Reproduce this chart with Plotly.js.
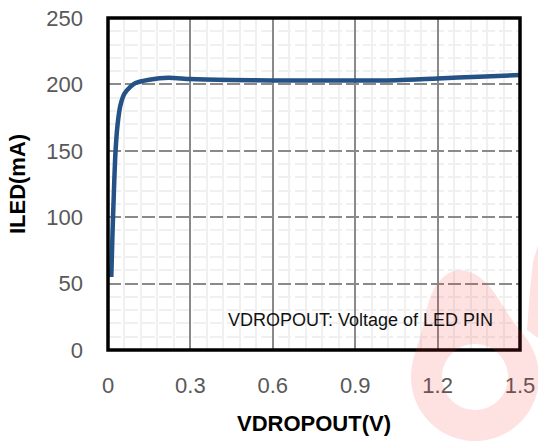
<!DOCTYPE html>
<html>
<head>
<meta charset="utf-8">
<script src="https://cdn.plot.ly/plotly-3.0.1.min.js"></script>
<style>html,body{margin:0;padding:0;background:#fff;}#chart{width:538px;height:441px;}</style>
</head>
<body>
<div id="chart"></div>
<script>
// Data
const vdropout = [0.012, 0.016, 0.020, 0.027, 0.035, 0.045, 0.060, 0.080, 0.100, 0.150, 0.220, 0.300, 0.450, 0.600, 0.750, 0.900, 1.050, 1.200, 1.350, 1.500];
const iled     = [55, 85, 110, 148, 170, 184, 193, 198, 201, 203.5, 205, 204, 203.3, 203, 203, 203, 203.2, 204.5, 205.8, 207];
const xTicks = [0, 0.3, 0.6, 0.9, 1.2, 1.5];
const yTicks = [0, 50, 100, 150, 200, 250];

// layout geometry
const W = 538, H = 441, L = 108, R = 18, T = 18, B = 91;
const pw = W - L - R, ph = H - T - B;
function px2paper(px, py) { return [(px - L) / pw, (H - B - py) / ph]; }

// faint watermark (ring with an upper arm) in the lower right
function ringPath(cx, cy, roBase, bump, bumpAt, bumpW, ri) {
  const n = 120, outer = [], inner = [];
  for (let i = 0; i <= n; i++) {
    const deg = 360 * i / n;
    const a = deg * Math.PI / 180;
    let d = Math.abs(deg - bumpAt); if (d > 180) d = 360 - d;
    const ro = roBase + bump * Math.exp(-(d / bumpW) * (d / bumpW));
    outer.push(px2paper(cx + ro * Math.cos(a), cy - ro * Math.sin(a)));
    inner.push(px2paper(cx + ri * Math.cos(a), cy - ri * Math.sin(a)));
  }
  const toStr = arr => arr.map((p, i) => (i ? 'L' : 'M') + p[0].toFixed(4) + ',' + p[1].toFixed(4)).join('') + 'Z';
  return toStr(outer) + toStr(inner.reverse());
}
function blobPath(pts) {
  return 'M' + pts.map(p => { const q = px2paper(p[0], p[1]); return q[0].toFixed(4) + ',' + q[1].toFixed(4); }).join('L') + 'Z';
}

const trace = {
  x: vdropout, y: iled, type: 'scatter', mode: 'lines',
  line: {color: '#245186', width: 4.5, shape: 'spline', smoothing: 0.8},
  hoverinfo: 'skip'
};

const tickFont = {family: 'Liberation Sans, Arial, sans-serif', size: 22, color: '#595959'};
const titleFont = {family: 'Liberation Sans, Arial, sans-serif', size: 22, color: '#000000', weight: 'bold'};
const wmColor = 'rgba(245,45,45,0.14)';

const layout = {
  width: W, height: H,
  margin: {l: L, r: R, t: T, b: B, pad: 0},
  paper_bgcolor: '#ffffff',
  plot_bgcolor: '#ffffff',
  showlegend: false,
  xaxis: {
    range: [0, 1.5], tickvals: xTicks, ticktext: xTicks.map(String),
    showgrid: true, gridcolor: '#8a8a8a', gridwidth: 2,
    zeroline: false, showline: false, ticks: '',
    tickfont: tickFont, ticklabelstandoff: 20,
    minor: {dtick: 0.06, showgrid: true, gridcolor: '#f0f0f0', gridwidth: 2},
    title: {text: 'VDROPOUT(V)', font: titleFont, standoff: 18}
  },
  yaxis: {
    range: [0, 250], tickvals: yTicks, ticktext: yTicks.map(String),
    showgrid: true, gridcolor: '#8a8a8a', gridwidth: 2, griddash: '13px,4px',
    zeroline: false, showline: false, ticks: '',
    tickfont: tickFont, ticklabelstandoff: 24,
    minor: {dtick: 10, showgrid: true, gridcolor: '#f0f0f0', gridwidth: 2},
    title: {text: 'ILED(mA)', font: titleFont, standoff: 14}
  },
  shapes: [
    {type: 'rect', xref: 'paper', yref: 'paper', x0: 0, x1: 1, y0: 0, y1: 1,
     line: {color: '#000000', width: 3.5}, layer: 'above'},
    {type: 'path', xref: 'paper', yref: 'paper', layer: 'above',
     path: ringPath(475, 377, 64, 44, 100, 28, 33),
     fillcolor: wmColor, line: {width: 0}},
    {type: 'path', xref: 'paper', yref: 'paper', layer: 'above',
     path: blobPath([[527, 330], [530, 290], [533, 262], [538, 245], [538, 338]]),
     fillcolor: wmColor, line: {width: 0}}
  ],
  annotations: [
    {xref: 'paper', yref: 'paper', x: (360 - L) / pw, y: (H - B - 320) / ph,
     text: 'VDROPOUT: Voltage of LED PIN', showarrow: false,
     font: {family: 'Liberation Sans, Arial, sans-serif', size: 18, color: '#111111'},
     xanchor: 'center', yanchor: 'middle'}
  ]
};

Plotly.newPlot('chart', [trace], layout, {staticPlot: true, displayModeBar: false});
</script>
</body>
</html>
